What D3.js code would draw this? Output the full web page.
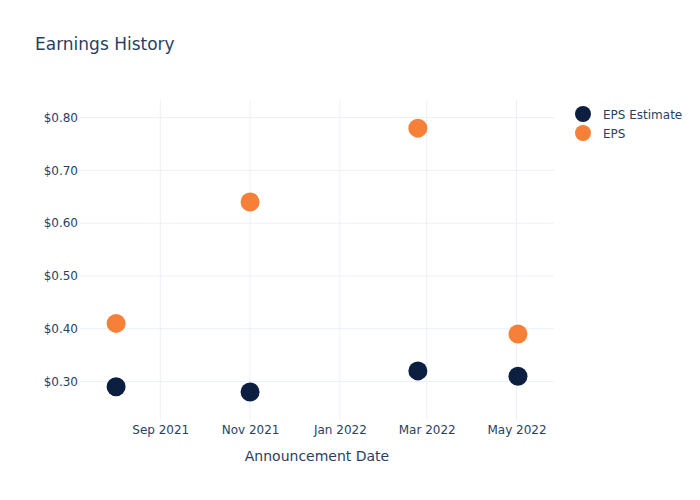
<!DOCTYPE html>
<html><head><meta charset="utf-8">
<script src="https://cdn.jsdelivr.net/npm/d3@7"></script>
<style>body{margin:0;background:#fff}svg{display:block}text{font-family:"DejaVu Sans",Verdana,sans-serif}</style>
</head><body><div id="chart"></div>
<script>
const dates = ["2021-08-02","2021-11-01","2022-02-23","2022-05-02"];
const epsEstimate = [0.29, 0.28, 0.32, 0.31];
const eps = [0.41, 0.64, 0.78, 0.39];
const yTicks = [0.3, 0.4, 0.5, 0.6, 0.7, 0.8];
const xTicks = ["2021-09-01","2021-11-01","2022-01-01","2022-03-01","2022-05-01"];
const seriesNames = ["EPS Estimate", "EPS"];
const colors = ["#0c1f41", "#f68038"];

const W = 700, H = 500;
const m = {l: 80, r: 146, t: 100, b: 80};
const svg = d3.select("#chart").append("svg").attr("width", W).attr("height", H);
const parse = d3.utcParse("%Y-%m-%d");

const x = d3.scaleUtc()
  .domain([parse("2021-07-08"), parse("2022-05-26")])
  .range([m.l - 0.7, W - m.r - 0.7]);
const y = d3.scaleLinear()
  .domain([0.2258, 0.8322])
  .range([H - m.b + 0.6, m.t + 0.6]);

const textColor = "#2a3f5f", gridColor = "#ebf0f8";

// grid
svg.append("g").selectAll("line").data(xTicks).join("line")
  .attr("x1", d => x(parse(d))).attr("x2", d => x(parse(d)))
  .attr("y1", m.t).attr("y2", H - m.b)
  .attr("stroke", gridColor).attr("stroke-width", 1);
svg.append("g").selectAll("line").data(yTicks).join("line")
  .attr("x1", m.l).attr("x2", W - m.r)
  .attr("y1", d => y(d)).attr("y2", d => y(d))
  .attr("stroke", gridColor).attr("stroke-width", 1);

// axes via d3
const xAxis = d3.axisBottom(x).tickValues(xTicks.map(parse))
  .tickFormat(d3.utcFormat("%b %Y")).tickSize(0).tickPadding(5);
const gx = svg.append("g").attr("transform", `translate(0,${H - m.b})`).call(xAxis);
gx.select(".domain").remove();
gx.selectAll("text").attr("fill", textColor).style("font-size", "12px")
  .style("font-family", '"DejaVu Sans",Verdana,sans-serif');

const yAxis = d3.axisLeft(y).tickValues(yTicks)
  .tickFormat(d => "$" + d3.format(".2f")(d)).tickSize(0).tickPadding(2);
const gy = svg.append("g").attr("transform", `translate(${m.l},0)`).call(yAxis);
gy.select(".domain").remove();
gy.selectAll("text").attr("fill", textColor).style("font-size", "12px")
  .style("font-family", '"DejaVu Sans",Verdana,sans-serif');

// points
const series = [epsEstimate, eps];
series.forEach((vals, i) => {
  svg.append("g").selectAll("circle").data(vals).join("circle")
    .attr("cx", (d, j) => x(parse(dates[j])))
    .attr("cy", d => y(d))
    .attr("r", 9.5)
    .attr("fill", colors[i]);
});

// title
svg.append("text").attr("x", 35).attr("y", 50).attr("fill", textColor)
  .style("font-size", "17px").text("Earnings History");

// x axis title
svg.append("text").attr("x", (m.l + W - m.r) / 2).attr("y", 461)
  .attr("text-anchor", "middle").attr("fill", textColor)
  .style("font-size", "14px").text("Announcement Date");

// legend
const lg = svg.append("g").attr("transform", "translate(583,114)");
seriesNames.forEach((n, i) => {
  const g = lg.append("g").attr("transform", `translate(0,${i * 19})`);
  g.append("circle").attr("r", 8).attr("fill", colors[i]);
  g.append("text").attr("x", 20).attr("y", 4.5).attr("fill", textColor)
    .style("font-size", "12px").text(n);
});
</script></body></html>
